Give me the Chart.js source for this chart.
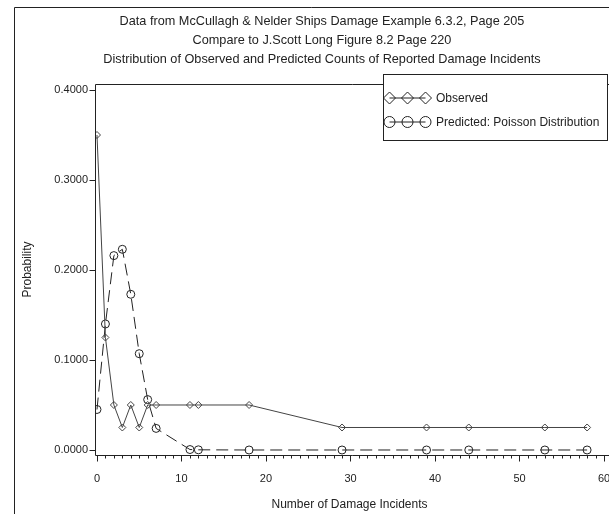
<!DOCTYPE html>
<html>
<head>
<meta charset="utf-8">
<script src="https://cdn.jsdelivr.net/npm/chart.js@4"></script>
<style>
  html, body { margin: 0; padding: 0; background: #fff; }
  #wrap { width: 609px; height: 514px; }
</style>
</head>
<body>
<div id="wrap"><canvas id="chart" width="609" height="514"></canvas></div>
<script>
// titles
const titleLines = [
  "Data from McCullagh & Nelder Ships Damage Example 6.3.2, Page 205",
  "Compare to J.Scott Long Figure 8.2 Page 220",
  "Distribution of Observed and Predicted Counts of Reported Damage Incidents"
];

// number of damage incidents (x) and probabilities
const incidents = [0, 1, 2, 3, 4, 5, 6, 7, 11, 12, 18, 29, 39, 44, 53, 58];
const observed  = [0.350, 0.125, 0.050, 0.025, 0.050, 0.025, 0.050, 0.050, 0.050, 0.050, 0.050, 0.025, 0.025, 0.025, 0.025, 0.025];
const predicted = [0.045, 0.140, 0.216, 0.223, 0.173, 0.107, 0.056, 0.024, 0.0005, 0.0002, 0, 0, 0, 0, 0, 0];

const seriesNames = ["Observed", "Predicted: Poisson Distribution"];
const xTicks = [0, 10, 20, 30, 40, 50, 60];
const yTicks = [0, 0.1, 0.2, 0.3, 0.4];

const FONT = "'Liberation Sans', Arial, sans-serif";
const INK = "#222";

// ==== frame, titles, axes and legend drawn on top of the chart ====
const sasFrame = {
  id: "sasFrame",
  afterDraw(chart) {
    const { ctx, chartArea: a, scales: { x, y } } = chart;
    ctx.save();
    ctx.strokeStyle = INK;
    ctx.lineWidth = 1;

    // outer border
    ctx.beginPath();
    ctx.moveTo(14.5, 514);
    ctx.lineTo(14.5, 7.5);
    ctx.lineTo(609, 7.5);
    ctx.stroke();

    // titles
    ctx.fillStyle = INK;
    ctx.font = "12.7px " + FONT;
    ctx.textAlign = "center";
    ctx.textBaseline = "alphabetic";
    titleLines.forEach((t, i) => ctx.fillText(t, 322, 24.5 + i * 19));

    // axis frame
    const left = Math.round(a.left) + 0.5;
    const bottom = Math.round(a.bottom) + 0.5;
    const top = Math.round(a.top) + 0.5;
    ctx.beginPath();
    ctx.moveTo(609, top);
    ctx.lineTo(left, top);
    ctx.lineTo(left, bottom);
    ctx.lineTo(609, bottom);
    ctx.stroke();

    // y ticks
    ctx.beginPath();
    yTicks.forEach(v => {
      const py = Math.round(y.getPixelForValue(v)) + 0.5;
      ctx.moveTo(left - 6, py);
      ctx.lineTo(left, py);
    });
    // x ticks: major every 10, minor every 1
    for (let v = 0; v <= 60; v++) {
      const px = Math.round(x.getPixelForValue(v)) + 0.5;
      ctx.moveTo(px, bottom);
      ctx.lineTo(px, bottom + (v % 10 === 0 ? 6 : 3));
    }
    ctx.stroke();

    // legend box
    ctx.fillStyle = "#fff";
    ctx.fillRect(383.5, 74.5, 224, 66);
    ctx.strokeRect(383.5, 74.5, 224, 66);

    const rows = [98, 122];
    const cx = [389.5, 407.5, 425.5];
    rows.forEach((ry, i) => {
      ctx.beginPath();
      ctx.moveTo(cx[0], ry);
      ctx.lineTo(cx[2], ry);
      ctx.stroke();
      cx.forEach(px => {
        ctx.beginPath();
        if (i === 0) {
          ctx.moveTo(px - 6, ry);
          ctx.lineTo(px, ry - 6);
          ctx.lineTo(px + 6, ry);
          ctx.lineTo(px, ry + 6);
          ctx.closePath();
        } else {
          ctx.arc(px, ry, 5.5, 0, Math.PI * 2);
        }
        ctx.stroke();
      });
      ctx.fillStyle = INK;
      ctx.font = "12px " + FONT;
      ctx.textAlign = "left";
      ctx.textBaseline = "middle";
      ctx.fillText(seriesNames[i], 436, ry + 0.5);
    });

    ctx.restore();
  }
};

const ctx = document.getElementById("chart").getContext("2d");

new Chart(ctx, {
  type: "line",
  data: {
    datasets: [
      {
        label: seriesNames[0],
        data: incidents.map((v, i) => ({ x: v, y: observed[i] })),
        borderColor: "#444",
        borderWidth: 1,
        pointStyle: "rectRot",
        pointRadius: 3.5,
        pointBorderColor: "#444",
        pointBackgroundColor: "rgba(0,0,0,0)",
        pointBorderWidth: 1,
        tension: 0
      },
      {
        label: seriesNames[1],
        data: incidents.map((v, i) => ({ x: v, y: predicted[i] })),
        borderColor: "#222",
        borderWidth: 1,
        borderDash: [12, 6],
        pointStyle: "circle",
        pointRadius: 4,
        pointBorderColor: "#222",
        pointBackgroundColor: "rgba(0,0,0,0)",
        pointBorderWidth: 1,
        tension: 0
      }
    ]
  },
  options: {
    responsive: false,
    animation: false,
    devicePixelRatio: 1,
    layout: { padding: { top: 84, right: 2, left: 0, bottom: 0 } },
    plugins: {
      legend: { display: false },
      title: { display: false },
      tooltip: { enabled: false }
    },
    scales: {
      x: {
        type: "linear",
        min: -0.235,
        max: 60,
        afterBuildTicks: s => { s.ticks = xTicks.map(v => ({ value: v })); },
        afterFit: s => { s.height = 59; s.paddingLeft = 0; s.paddingRight = 0; },
        grid: { display: false, drawTicks: false },
        border: { display: false },
        ticks: {
          autoSkip: false,
          maxRotation: 0,
          padding: 17,
          color: INK,
          font: { family: FONT, size: 11 }
        },
        title: {
          display: true,
          text: "Number of Damage Incidents",
          color: INK,
          font: { family: FONT, size: 12 },
          padding: { top: 0, bottom: 2 }
        }
      },
      y: {
        min: -0.00556,
        max: 0.40667,
        afterBuildTicks: s => { s.ticks = yTicks.map(v => ({ value: v })); },
        afterFit: s => { s.width = 95; s.paddingTop = 0; s.paddingBottom = 0; },
        grid: { display: false, drawTicks: false },
        border: { display: false },
        ticks: {
          padding: 7,
          color: INK,
          font: { family: FONT, size: 11 },
          callback: v => Number(v).toFixed(4)
        },
        title: {
          display: true,
          text: "Probability",
          color: INK,
          font: { family: FONT, size: 12 },
          padding: { top: 20, bottom: 0 }
        }
      }
    }
  },
  plugins: [sasFrame]
});
</script>
</body>
</html>
